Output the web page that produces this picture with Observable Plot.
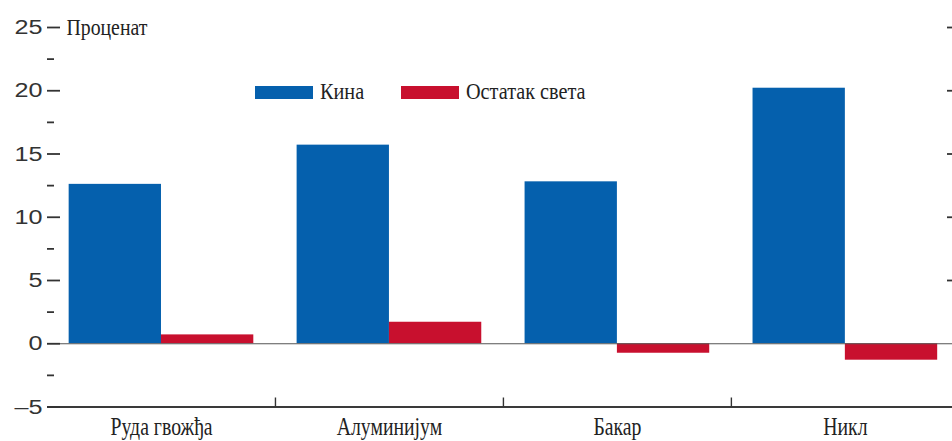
<!DOCTYPE html>
<html>
<head>
<meta charset="utf-8">
<script src="https://cdn.jsdelivr.net/npm/d3@7"></script>
<script src="https://cdn.jsdelivr.net/npm/@observablehq/plot@0.6"></script>
<style>
  html, body { margin: 0; padding: 0; background: #fff; overflow: hidden; }
  #chart { position: relative; width: 952px; height: 441px; }
  #chart > svg { position: absolute; left: 0; top: 0; }
  #legend { position: absolute; left: 255px; top: 79px; }
  #legend .lg-swatches { font: 23px "Liberation Serif", serif !important; color: #222; min-height: 0 !important; margin: 0 !important; line-height: 26px; }
  #legend .lg-swatch { margin-right: 37px !important; }
  #legend .lg-swatch > svg { margin-right: 7px !important; }
  #legend .lbl { display: inline-block; transform-origin: 0 50%; }
</style>
</head>
<body>
<div id="chart"><div id="legend"></div></div>
<script>
// Year-on-year change in metal consumption, percent
const categories = ["Руда гвожђа", "Алуминијум", "Бакар", "Никл"];
const series = ["Кина", "Остатак света"];
const chinaChange = [12.6, 15.7, 12.8, 20.2];
const restOfWorldChange = [0.7, 1.7, -0.75, -1.3];
const yMajorTicks = [-5, 0, 5, 10, 15, 20, 25];
const yMinorTicks = [-2.5, 2.5, 7.5, 12.5, 17.5, 22.5];
const yTitle = "Проценат";
const seriesColors = ["#0560ad", "#c8102e"];

const values = [chinaChange, restOfWorldChange];
const rows = categories.flatMap((category, i) =>
  series.map((s, j) => ({category, i, j, series: s, value: values[j][i]}))
);
const halfGroup = 0.405; // width of one bar, in category units
const serif = "Liberation Serif, serif";
const ink = "#333";
const fmtTick = d => (d < 0 ? "\u2013" : "") + Math.abs(d);

const plot = Plot.plot({
  width: 952,
  height: 441,
  marginLeft: 47,
  marginRight: 0,
  marginTop: 27,
  marginBottom: 34.5,
  style: {background: "transparent", overflow: "hidden"},
  x: {domain: [-0.5, 3.47], axis: null},
  y: {domain: [d3.min(yMajorTicks), d3.max(yMajorTicks)], axis: null},
  color: {domain: series, range: seriesColors},
  marks: [
    Plot.rect(rows, {
      x1: d => d.j === 0 ? d.i - halfGroup : d.i,
      x2: d => d.j === 0 ? d.i : d.i + halfGroup,
      y1: () => 0,
      y2: "value",
      fill: "series"
    }),
    Plot.ruleY([0], {stroke: "#555", strokeWidth: 1.2}),
    Plot.ruleY([d3.min(yMajorTicks)], {stroke: "#3a3a3a", strokeWidth: 1.8}),
    // left axis: labels and inward ticks
    Plot.axisY({ticks: yMajorTicks, tickSize: -13, tickPadding: 18, strokeWidth: 1.8,
      tickFormat: fmtTick, color: "#333", fontSize: 21,
      fontFamily: "Liberation Sans, Arial, sans-serif", label: null}),
    Plot.axisY({ticks: yMinorTicks, tickSize: -7, tickFormat: () => "", strokeWidth: 1.8,
      color: ink, label: null}),
    // right axis ticks
    Plot.axisY({anchor: "right", ticks: yMajorTicks.filter(v => v > 0), tickSize: -6,
      tickFormat: () => "", strokeWidth: 1.8, color: ink, label: null}),
    // group separators on the base line
    Plot.axisX({ticks: categories.slice(1).map((_, i) => i + 0.5), tickSize: -9,
      tickFormat: () => "", strokeWidth: 1.4, color: ink, label: null}),
    // category names
    Plot.axisX({ticks: categories.map((_, i) => i), tickSize: 0, tickPadding: 10,
      tickFormat: i => categories[i], fontSize: 26, fontFamily: serif, color: "#222",
      label: null}),
    Plot.text([yTitle], {frameAnchor: "left", y: () => d3.max(yMajorTicks), dx: 19,
      text: d => d, textAnchor: "start", fontSize: 23, fontFamily: serif, fill: "#222"})
  ]
});

const chart = document.getElementById("chart");
chart.insertBefore(plot, chart.firstChild);

// rescale lettering horizontally around each label's anchor point
function rescale(labels, k) {
  plot.querySelectorAll("text").forEach(t => {
    if (!labels.includes(t.textContent)) return;
    const tr = t.getAttribute("transform") || "";
    t.setAttribute("transform", `${tr} scale(${k},1)`);
  });
}
rescale(categories, 0.76);
rescale([yTitle], 0.86);
rescale(yMajorTicks.map(fmtTick), 1.2);

const legend = Plot.legend({
  color: {domain: series, range: seriesColors},
  legend: "swatches",
  swatchWidth: 58,
  swatchHeight: 13,
  className: "lg"
});
document.getElementById("legend").appendChild(legend);
legend.querySelectorAll(".lg-swatch").forEach(sw => {
  [...sw.childNodes].filter(n => n.nodeType === 3 && n.textContent.trim()).forEach(n => {
    const span = document.createElement("span");
    span.className = "lbl";
    span.textContent = n.textContent;
    sw.replaceChild(span, n);
    const w = span.getBoundingClientRect().width;
    const k = 0.88;
    span.style.transform = `scaleX(${k})`;
    span.style.marginRight = `${-(1 - k) * w}px`;
  });
});
</script>
</body>
</html>
